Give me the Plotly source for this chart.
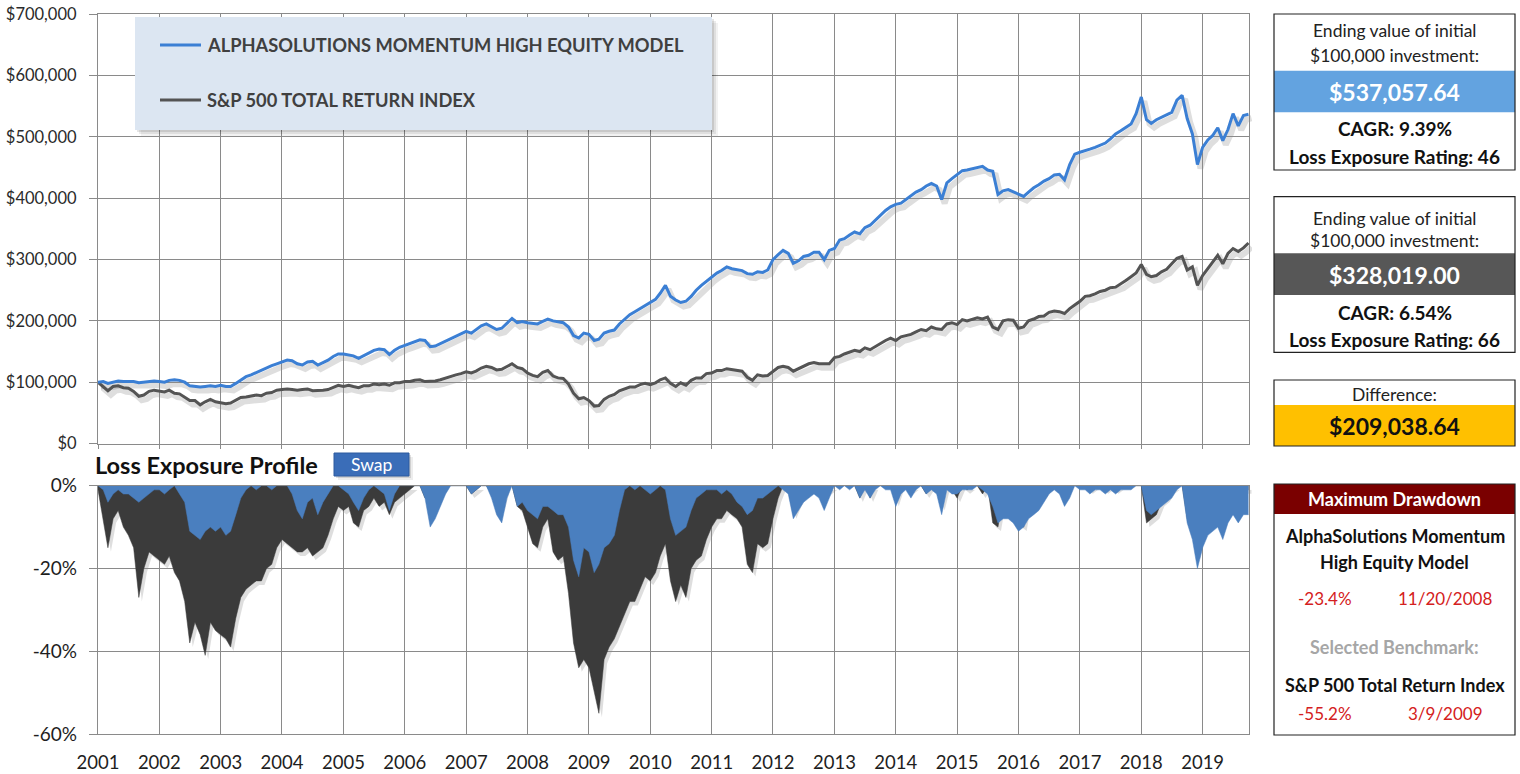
import plotly.graph_objects as go
import pandas as pd

W, H = 1520, 774

# ---------------- data (monthly) ----------------
DATES = pd.date_range("2001-01-01", "2019-10-01", freq="MS")

# portfolio values in thousands of dollars
MODEL_K = [
    100, 101, 98, 100, 102, 101, 101, 101, 99, 100, 101, 102,      # 2001
    101, 100, 103, 104, 103, 100, 94, 93, 92, 93, 94, 93,          # 2002
    95, 93, 93, 98, 104, 109, 112, 116, 120, 124, 127, 130,        # 2003
    133, 136, 135, 130, 128, 133, 134, 128, 132, 136, 142, 146,    # 2004
    146, 145, 143, 139, 143, 148, 152, 154, 153, 145, 152, 157,    # 2005
    160, 163, 166, 169, 168, 158, 159, 163, 167, 172, 176, 179,    # 2006
    183, 180, 186, 192, 195, 190, 186, 188, 196, 204, 197, 199,    # 2007
    197, 196, 195, 199, 203, 200, 198, 197, 190, 176, 172, 180,    # 2008
    178, 168, 170, 180, 183, 185, 195, 203, 210, 215, 220, 226,    # 2009
    230, 235, 245, 258, 240, 234, 230, 232, 240, 250, 258, 265,    # 2010
    272, 278, 282, 288, 285, 283, 282, 277, 276, 280, 279, 283,    # 2011
    300, 308, 315, 310, 294, 298, 305, 307, 312, 312, 300, 315,    # 2012
    318, 332, 334, 340, 345, 342, 352, 356, 364, 372, 380, 386,    # 2013
    390, 392, 398, 405, 410, 414, 420, 424, 420, 398, 425, 432,    # 2014
    438, 445, 446, 448, 450, 452, 446, 444, 406, 412, 414, 410,    # 2015
    406, 403, 410, 417, 422, 428, 432, 438, 439, 430, 455, 472,    # 2016
    475, 477, 480, 483, 486, 490, 497, 505, 510, 516, 521, 538,    # 2017
    565, 528, 522, 528, 532, 535, 540, 560, 568, 530, 505, 455,    # 2018
    483, 495, 502, 515, 494, 512, 538, 518, 535, 537,              # 2019
]

SP500_K = [
    100, 93, 86, 93, 94, 91, 90, 85, 77, 79, 85, 87,
    86, 84, 87, 82, 81, 76, 70, 70, 63, 68, 72, 68,
    66, 65, 66, 71, 75, 76, 77, 79, 78, 82, 83, 87,
    88, 89, 88, 87, 88, 89, 86, 86, 87, 88, 92, 95,
    93, 95, 93, 91, 94, 94, 97, 96, 97, 95, 99, 99,
    101, 101, 103, 104, 101, 101, 102, 104, 107, 110, 112, 114,
    117, 115, 118, 123, 126, 124, 120, 121, 126, 130, 124, 122,
    115, 111, 109, 116, 119, 110, 107, 106, 97, 82, 73, 75,
    70, 61, 62, 72, 77, 80, 86, 89, 92, 92, 96, 98,
    96, 99, 104, 107, 98, 93, 99, 95, 103, 107, 107, 114,
    115, 119, 119, 122, 121, 120, 118, 108, 103, 112, 110, 111,
    118, 124, 126, 124, 118, 122, 126, 130, 132, 130, 130, 130,
    140, 142, 146, 149, 152, 150, 156, 153, 158, 164, 168, 172,
    168, 174, 176, 178, 182, 186, 184, 190, 187, 186, 195, 197,
    194, 202, 200, 203, 205, 203, 206, 190, 186, 200, 202, 201,
    188, 190, 200, 203, 207, 208, 214, 216, 215, 212, 220, 226,
    232, 240, 241, 244, 248, 250, 254, 255, 260, 266, 272, 278,
    292, 276, 272, 274, 280, 284, 293, 302, 305, 283, 288, 258,
    274, 286, 295, 307, 293, 310, 318, 313, 319, 327,
]

# drawdowns in percent
MODEL_DD = [
    0, -1, -4, -2, -1, -2, -2, -3, -4, -3, -2, -1,
    -1, -2, -1, 0, -2, -4, -11, -12, -13, -11, -10, -11,
    -10, -12, -11, -7, -3, -1, 0, -1, 0, 0, -1, 0,
    0, 0, -2, -6, -8, -4, -3, -7, -4, -2, 0, 0,
    -1, -2, -4, -6, -3, -1, 0, -1, -2, -6, -2, 0,
    0, 0, 0, 0, -3, -10, -8, -5, -2, 0, 0, 0,
    0, -2, -1, 0, 0, -3, -7, -9, -3, 0, -5, -4,
    -6, -7, -8, -5, -5, -6, -7, -7, -10, -18, -22, -15,
    -16, -21, -19, -15, -14, -12, -6, -1, 0, -1, 0, -1,
    -2, -1, 0, -1, -8, -12, -11, -10, -6, -3, -2, -1,
    -1, -1, -2, -1, -2, -4, -5, -7, -6, -3, -3, -2,
    -1, 0, -1, -2, -8, -6, -4, -3, -2, -3, -6, -3,
    0, -1, 0, -1, 0, -3, -1, -3, -1, 0, -1, -1,
    -5, -2, -1, -3, -1, 0, -2, -1, -2, -7, -1, -2,
    -2, -1, -1, -1, 0, -1, -2, -5, -9, -8, -8, -9,
    -11, -10, -8, -7, -6, -4, -2, -1, -2, -5, -3, 0,
    -1, -1, -2, -1, -1, -2, -1, -2, -1, -1, -1, 0,
    0, -6, -7, -6, -5, -4, -3, -1, 0, -9, -13, -20,
    -15, -12, -11, -10, -13, -9, -7, -9, -7, -7,
]

SP500_DD = [
    -1, -8, -15, -8, -6, -10, -12, -15, -27, -20, -16, -17,
    -18, -19, -17, -21, -23, -28, -38, -33, -36, -41, -33, -35,
    -36, -37, -39, -32, -27, -25, -24, -23, -23, -20, -19, -15,
    -13, -14, -15, -16, -16, -15, -17, -16, -15, -12, -8, -5,
    -6, -5, -9, -10, -6, -5, -3, -5, -4, -7, -4, -3,
    -2, -1, 0, 0, -3, -4, -3, -1, 0, 0, 0, 0,
    0, -2, -1, 0, 0, -2, -4, -5, 0, 0, -5, -6,
    -10, -14, -15, -10, -8, -16, -18, -17, -26, -38, -44, -42,
    -44, -50, -55, -42, -39, -37, -34, -31, -28, -28, -25, -22,
    -23, -21, -17, -14, -23, -28, -24, -27, -20, -18, -17, -13,
    -10, -8, -8, -6, -7, -8, -10, -19, -21, -14, -15, -14,
    -8, -3, 0, -1, -7, -4, -2, 0, 0, -1, -2, -1,
    0, 0, 0, 0, 0, -3, 0, -3, 0, 0, 0, 0,
    -4, 0, 0, -1, 0, 0, -2, 0, -1, -5, 0, -1,
    -3, 0, -1, 0, 0, -2, 0, -9, -10, -3, -2, -3,
    -9, -10, -3, -2, -1, -2, 0, 0, 0, -2, 0, 0,
    0, 0, -1, 0, 0, -1, 0, -1, 0, 0, 0, 0,
    0, -9, -8, -7, -4, -3, -1, 0, 0, -8, -7, -17,
    -9, -4, -2, 0, -6, -1, 0, -3, -1, -1,
]

SERIES_NAMES = ["ALPHASOLUTIONS MOMENTUM HIGH EQUITY MODEL", "S&P 500 TOTAL RETURN INDEX"]

Y_TOP_TICKS = [0, 100, 200, 300, 400, 500, 600, 700]
Y_TOP_LABELS = ["$0", "$100,000", "$200,000", "$300,000", "$400,000", "$500,000", "$600,000", "$700,000"]
Y_BOT_TICKS = [0, -20, -40, -60]
Y_BOT_LABELS = ["0%", "-20%", "-40%", "-60%"]
YEAR_TICKS = ["2001-01-01", "2002-01-01", "2003-01-01", "2004-01-01", "2005-01-01", "2006-01-01",
              "2007-01-01", "2008-01-01", "2009-01-01", "2010-01-01", "2011-01-01", "2012-01-01",
              "2013-01-01", "2014-01-01", "2015-01-01", "2016-01-01", "2017-01-01", "2018-01-01",
              "2019-01-01"]
YEAR_LABELS = ["2001", "2002", "2003", "2004", "2005", "2006", "2007", "2008", "2009", "2010",
               "2011", "2012", "2013", "2014", "2015", "2016", "2017", "2018", "2019"]
X_RANGE = ["2001-01-01", "2019-10-04"]

# side panel texts
PANEL1 = ["Ending value of initial", "$100,000 investment:", "$537,057.64", "CAGR: 9.39%", "Loss Exposure Rating: 46"]
PANEL2 = ["Ending value of initial", "$100,000 investment:", "$328,019.00", "CAGR: 6.54%", "Loss Exposure Rating: 66"]
PANEL3 = ["Difference:", "$209,038.64"]
PANEL4 = ["Maximum Drawdown", "AlphaSolutions Momentum", "High Equity Model", "-23.4%", "11/20/2008",
          "Selected Benchmark:", "S&P 500 Total Return Index", "-55.2%", "3/9/2009"]

# ---------------- styles ----------------
BLUE_LINE = "#3b7fd4"
GRAY_LINE = "#545454"
BLUE_AREA = "#4a7fbf"
DARK_AREA = "#3b3b3b"
GRID = "#8a8a8a"
FONT = "Lato"
SHADOW_LINE = "rgba(0,0,0,0.13)"
SHADOW_AREA = "rgba(0,0,0,0.13)"

PL, PR = 98, 1249
TOP_T, TOP_B = 14.3, 443.5
BOT_T, BOT_B = 485.7, 734.0
SDX, SDY = 3, 4  # shadow offset in px


def xdom(l, r):
    return [l / W, r / W]


def ydom(t, b):
    return [1 - b / H, 1 - t / H]


def px(x):
    return x / W


def py(y):
    return 1 - y / H


fig = go.Figure()

# shadow traces (drawn first, on offset copies of the axes)
fig.add_trace(go.Scatter(x=DATES, y=SP500_K, mode="lines", line=dict(color=SHADOW_LINE, width=6),
                         xaxis="x", yaxis="y", hoverinfo="skip", showlegend=False))
fig.add_trace(go.Scatter(x=DATES, y=MODEL_K, mode="lines", line=dict(color=SHADOW_LINE, width=6),
                         xaxis="x", yaxis="y", hoverinfo="skip", showlegend=False))
fig.add_trace(go.Scatter(x=DATES, y=SP500_DD, mode="lines", fill="tozeroy", fillcolor=SHADOW_AREA,
                         line=dict(color="rgba(0,0,0,0)", width=0), xaxis="x2", yaxis="y2",
                         hoverinfo="skip", showlegend=False))

# main value lines
fig.add_trace(go.Scatter(x=DATES, y=SP500_K, mode="lines", name=SERIES_NAMES[1],
                         line=dict(color=GRAY_LINE, width=3), xaxis="x3", yaxis="y3", showlegend=False))
fig.add_trace(go.Scatter(x=DATES, y=MODEL_K, mode="lines", name=SERIES_NAMES[0],
                         line=dict(color=BLUE_LINE, width=3), xaxis="x3", yaxis="y3", showlegend=False))

# drawdown areas: benchmark underneath, model on top
fig.add_trace(go.Scatter(x=DATES, y=SP500_DD, mode="lines", fill="tozeroy", fillcolor=DARK_AREA,
                         line=dict(color=DARK_AREA, width=0.5), name="S&P 500 drawdown",
                         xaxis="x4", yaxis="y4", showlegend=False))
fig.add_trace(go.Scatter(x=DATES, y=MODEL_DD, mode="lines", fill="tozeroy", fillcolor=BLUE_AREA,
                         line=dict(color=BLUE_AREA, width=0.5), name="Model drawdown",
                         xaxis="x4", yaxis="y4", showlegend=False))

hidden = dict(visible=False, showgrid=False, zeroline=False, fixedrange=True, automargin=False)
TICK_TOP = dict(family=FONT, size=16.5, color="#2a2a2a")
TICK_YEAR = dict(family=FONT, size=18.5, color="#1e1e1e")
TICK_PCT = dict(family=FONT, size=19, color="#1e1e1e")

fig.update_layout(
    template="none",
    width=W, height=H,
    margin=dict(l=0, r=0, t=0, b=0, pad=0, autoexpand=False),
    paper_bgcolor="white",
    plot_bgcolor="rgba(0,0,0,0)",
    showlegend=False,
    font=dict(family=FONT, color="#333333"),
    # shadow axes
    xaxis=dict(domain=xdom(PL + SDX, PR + SDX), range=X_RANGE, type="date", anchor="y", **hidden),
    yaxis=dict(domain=ydom(TOP_T + SDY, TOP_B + SDY), range=[0, 700], anchor="x", **hidden),
    xaxis2=dict(domain=xdom(PL + SDX, PR + SDX), range=X_RANGE, type="date", anchor="y2", **hidden),
    yaxis2=dict(domain=ydom(BOT_T + SDY, BOT_B + SDY), range=[-60, 0], anchor="x2", **hidden),
    # top chart
    xaxis3=dict(domain=xdom(PL, PR), range=X_RANGE, type="date", anchor="y3", automargin=False,
                tickvals=YEAR_TICKS, ticktext=YEAR_LABELS, showticklabels=False,
                showgrid=True, gridcolor=GRID, gridwidth=1.2, zeroline=False,
                showline=True, linecolor=GRID, linewidth=1.2, mirror=True,
                ticks="outside", ticklen=4, tickcolor=GRID, fixedrange=True),
    yaxis3=dict(domain=ydom(TOP_T, TOP_B), range=[0, 700], anchor="x3", automargin=False,
                tickvals=Y_TOP_TICKS, ticktext=Y_TOP_LABELS, tickfont=TICK_TOP,
                showgrid=True, gridcolor=GRID, gridwidth=1.2, zeroline=False,
                showline=True, linecolor=GRID, linewidth=1.2, mirror=True,
                ticks="outside", ticklen=8, tickcolor=GRID, ticklabelstandoff=9, fixedrange=True),
    # bottom chart
    xaxis4=dict(domain=xdom(PL, PR), range=X_RANGE, type="date", anchor="y4", automargin=False,
                tickvals=YEAR_TICKS, ticktext=YEAR_LABELS, tickfont=TICK_YEAR,
                showgrid=True, gridcolor=GRID, gridwidth=1.2, zeroline=False,
                showline=True, linecolor=GRID, linewidth=1.2, mirror=True,
                ticks="", ticklabelstandoff=12, fixedrange=True),
    yaxis4=dict(domain=ydom(BOT_T, BOT_B), range=[-60, 0], anchor="x4", automargin=False,
                tickvals=Y_BOT_TICKS, ticktext=Y_BOT_LABELS, tickfont=TICK_PCT,
                showgrid=True, gridcolor=GRID, gridwidth=1.2, zeroline=False,
                showline=True, linecolor=GRID, linewidth=1.2, mirror=True,
                ticks="outside", ticklen=8, tickcolor=GRID, ticklabelstandoff=8, fixedrange=True),
)

shapes = []
annotations = []


def rect(x0, y0, x1, y1, fill, line_color=None, line_width=0, layer="above"):
    shapes.append(dict(type="rect", xref="paper", yref="paper",
                       x0=px(x0), x1=px(x1), y0=py(y1), y1=py(y0),
                       fillcolor=fill, layer=layer,
                       line=dict(color=line_color or "rgba(0,0,0,0)", width=line_width)))


def text(x, y, s, size=15, color="#222222", bold=False, anchor="center"):
    annotations.append(dict(xref="paper", yref="paper", x=px(x), y=py(y),
                            text=("<b>%s</b>" % s) if bold else s, showarrow=False,
                            xanchor=anchor, yanchor="middle",
                            font=dict(family=FONT, size=size, color=color)))


# ---- legend box (custom, with soft shadow) ----
LX0, LY0, LX1, LY1 = 135, 17, 712, 130
for d, a in [(6, 0.05), (4, 0.08), (2, 0.10)]:
    rect(LX0 + d, LY0 + d, LX1 + d, LY1 + d, "rgba(0,0,0,%.2f)" % a)
rect(LX0, LY0, LX1, LY1, "#dce6f2")
for yy, col, name in [(45, BLUE_LINE, SERIES_NAMES[0]), (100, GRAY_LINE, SERIES_NAMES[1])]:
    shapes.append(dict(type="line", xref="paper", yref="paper", x0=px(160), x1=px(201),
                       y0=py(yy), y1=py(yy), line=dict(color=col, width=3), layer="above"))
    text(205, yy, name, size=18.3, color="#404040", bold=True, anchor="left")

# ---- Loss Exposure Profile title + Swap button ----
text(93, 465, "Loss Exposure Profile", size=23.5, color="#111111", bold=True, anchor="left")
for d, a in [(4, 0.07), (2, 0.12)]:
    rect(334 + d, 453 + d, 409 + d, 476 + d, "rgba(0,0,0,%.2f)" % a)
rect(334, 453, 409, 476, "#3a6db8", "#2d5a9e", 1)
text(371.5, 464, "Swap", size=17.5, color="white")

# ---- side panels ----
BX0, BX1 = 1274, 1515
CX = (BX0 + BX1) / 2
SMALL = 17.5
BOLD = 19
BIG = 23

# panel 1
rect(BX0, 70.7, BX1, 112.3, "#63a3e0")
rect(BX0, 14, BX1, 170, "rgba(0,0,0,0)", "#222222", 1.2)
text(CX, 30.5, PANEL1[0], size=SMALL)
text(CX, 55, PANEL1[1], size=SMALL)
text(CX, 92, PANEL1[2], size=BIG, color="white", bold=True)
text(CX, 129, PANEL1[3], size=BOLD, bold=True, color="#111111")
text(CX, 156, PANEL1[4], size=BOLD, bold=True, color="#111111")

# panel 2
rect(BX0, 253.3, BX1, 295, "#575757")
rect(BX0, 196.7, BX1, 352.3, "rgba(0,0,0,0)", "#222222", 1.2)
text(CX, 218, PANEL2[0], size=SMALL)
text(CX, 240, PANEL2[1], size=SMALL)
text(CX, 275, PANEL2[2], size=BIG, color="white", bold=True)
text(CX, 312, PANEL2[3], size=BOLD, bold=True, color="#111111")
text(CX, 339, PANEL2[4], size=BOLD, bold=True, color="#111111")

# panel 3
rect(BX0, 405, BX1, 446, "#ffc000")
rect(BX0, 380, BX1, 446, "rgba(0,0,0,0)", "#222222", 1.2)
text(CX, 394, PANEL3[0], size=SMALL)
text(CX, 426, PANEL3[1], size=BIG, color="#111111", bold=True)

# panel 4
rect(BX0, 484, BX1, 514, "#7a0000")
rect(BX0, 484, BX1, 735, "rgba(0,0,0,0)", "#222222", 1.2)
RED = "#d42020"
text(CX, 498.5, PANEL4[0], size=18, color="white", bold=True)
text(CX, 536, PANEL4[1], size=18, color="#111111", bold=True)
text(CX, 562, PANEL4[2], size=18, color="#111111", bold=True)
text(1325, 598.5, PANEL4[3], size=17, color=RED)
text(1445, 598.5, PANEL4[4], size=17, color=RED)
text(CX, 647, PANEL4[5], size=18, color="#a6a6a6", bold=True)
text(CX, 684.5, PANEL4[6], size=18, color="#111111", bold=True)
text(1325, 713.5, PANEL4[7], size=17, color=RED)
text(1445, 713.5, PANEL4[8], size=17, color=RED)

fig.update_layout(shapes=shapes, annotations=annotations)

# place the figure at the page's top-left corner (no default body margin), no mode bar
fig.write_html("out.html",
               config={"displayModeBar": False},
               post_script="document.body.style.margin='0';document.body.style.overflow='hidden';")
